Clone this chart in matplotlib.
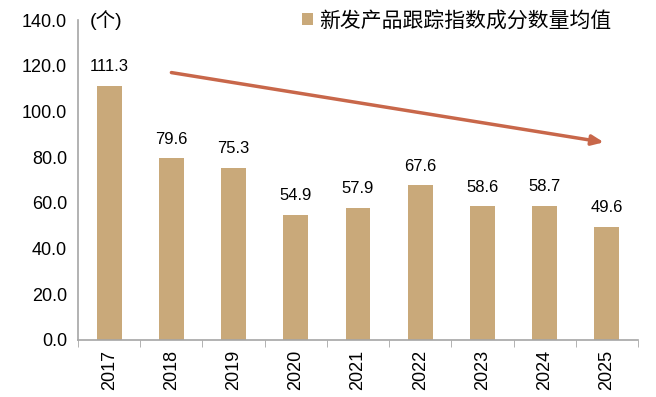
import numpy as np
import matplotlib.pyplot as plt

plt.rcParams['font.family'] = ['Liberation Sans', 'Noto Sans CJK SC', 'DejaVu Sans']

years = ['2017', '2018', '2019', '2020', '2021', '2022', '2023', '2024', '2025']
avg_constituents = [111.3, 79.6, 75.3, 54.9, 57.9, 67.6, 58.6, 58.7, 49.6]
series_name = '新发产品跟踪指数成分数量均值'
unit_label = '(个)'

bar_color = '#C9A97A'
arrow_color = '#C8674A'
axis_color = '#A6A6A6'

fig = plt.figure(figsize=(6.56, 3.97), dpi=100)
ax = fig.add_axes([0.119, 0.1436, 0.8536, 0.806])

x = np.arange(len(years))
bars = ax.bar(x, avg_constituents, width=0.4, color=bar_color, label=series_name, zorder=2)

for xi, v in zip(x, avg_constituents):
    ax.text(xi, v + 5, f'{v:.1f}', ha='center', va='bottom', fontsize=12)

ax.set_xlim(-0.5, len(years) - 0.5)
ax.set_ylim(0, 140)
ax.set_yticks(np.arange(0, 141, 20))
ax.set_yticklabels([f'{t:.1f}' for t in np.arange(0, 141, 20)], fontsize=13)
ax.set_xticks(x)
ax.set_xticklabels(years, rotation=90, fontsize=13)
ax.set_xticks(np.arange(-0.5, len(years)), minor=True)
ax.tick_params(axis='x', which='major', length=0, pad=7)
ax.tick_params(axis='x', which='minor', length=5, color=axis_color, direction='out')
ax.tick_params(axis='y', length=0, pad=8)

for side in ['top', 'right']:
    ax.spines[side].set_visible(False)
for side in ['left', 'bottom']:
    ax.spines[side].set_color(axis_color)
    ax.spines[side].set_linewidth(1.2)

ax.text(0.02, 1.0, unit_label, transform=ax.transAxes, fontsize=14, ha='left', va='center')

# downward trend arrow
ax.annotate('', xy=(7.95, 86.5), xytext=(1.0, 117.0),
            arrowprops=dict(arrowstyle='-|>,head_length=0.7,head_width=0.3',
                            color=arrow_color, lw=2.5, shrinkA=0, shrinkB=0))

ax.legend(loc='upper right', bbox_to_anchor=(0.967, 1.055), frameon=False, fontsize=15,
          handlelength=0.5, handleheight=0.5, handletextpad=0.3, borderaxespad=0)

fig.savefig('out.png', dpi=100)
